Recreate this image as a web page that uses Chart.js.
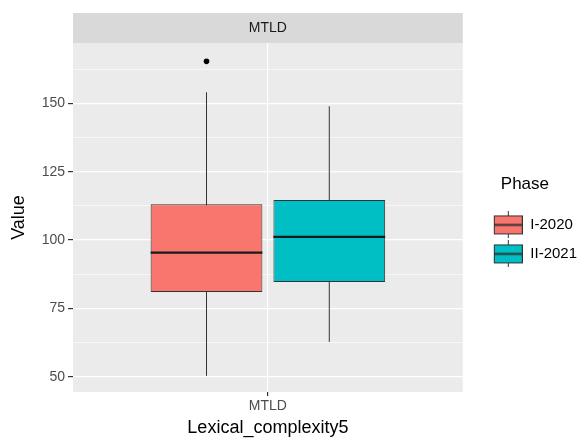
<!DOCTYPE html>
<html>
<head>
<meta charset="utf-8">
<script src="https://cdn.jsdelivr.net/npm/chart.js@4/dist/chart.umd.min.js"></script>
<style>
  body { margin: 0; background: #fff; }
  #wrap { width: 587px; height: 443px; }
</style>
</head>
<body>
<div id="wrap"><canvas id="box-chart"></canvas></div>
<script>
// data
const categories = ['MTLD'];
const phases = ['I-2020', 'II-2021'];
const phaseColors = ['#F8766D', '#00BFC4'];
const whiskerLow = [50.4, 62.8];
const lowerQuartile = [81, 84.7];
const medians = [95.4, 101.2];
const upperQuartile = [113.1, 114.6];
const whiskerHigh = [154, 148.9];
const outliers = [[165.3], []];
const yMajorTicks = [50, 75, 100, 125, 150];
const yMinorTicks = [62.5, 87.5, 112.5, 137.5, 162.5];

const FONT = 'Liberation Sans, Arial, sans-serif';

// little boxplot glyph for the legend keys (left part of the canvas is empty, it is the gap to the panel)
function makeKey(color) {
  const c = document.createElement('canvas');
  c.width = 46; c.height = 27;
  const g = c.getContext('2d');
  const x0 = 17;
  g.strokeStyle = '#333';
  g.lineWidth = 1;
  g.beginPath(); g.moveTo(x0 + 14.5, 0); g.lineTo(x0 + 14.5, 27); g.stroke();
  g.fillStyle = color;
  g.fillRect(x0 + 0.5, 4.5, 28, 18);
  g.strokeRect(x0 + 0.5, 4.5, 28, 18);
  g.lineWidth = 2;
  g.beginPath(); g.moveTo(x0 + 0.5, 13.5); g.lineTo(x0 + 28.5, 13.5); g.stroke();
  return c;
}

const boxExtras = {
  id: 'boxExtras',
  beforeDraw(chart) {
    const { ctx, chartArea: a } = chart;
    ctx.save();
    ctx.fillStyle = '#EBEBEB';
    ctx.fillRect(a.left, a.top, a.right - a.left, a.bottom - a.top);
    // facet strip
    ctx.fillStyle = '#D9D9D9';
    ctx.fillRect(a.left, a.top - 30, a.right - a.left, 30);
    ctx.fillStyle = '#1A1A1A';
    ctx.font = '14px ' + FONT;
    ctx.textAlign = 'center';
    ctx.textBaseline = 'middle';
    ctx.fillText(categories[0], (a.left + a.right) / 2, a.top - 15);
    ctx.restore();
  },
  beforeDatasetsDraw(chart) {
    const { ctx } = chart;
    const y = chart.scales.y;
    ctx.save();
    ctx.strokeStyle = '#333';
    ctx.lineWidth = 1;
    chart.data.datasets.forEach((ds, i) => {
      const el = chart.getDatasetMeta(i).data[0];
      ctx.beginPath();
      ctx.moveTo(el.x, y.getPixelForValue(whiskerLow[i]));
      ctx.lineTo(el.x, y.getPixelForValue(whiskerHigh[i]));
      ctx.stroke();
    });
    ctx.restore();
  },
  afterDatasetsDraw(chart) {
    const { ctx } = chart;
    const y = chart.scales.y;
    ctx.save();
    chart.data.datasets.forEach((ds, i) => {
      const el = chart.getDatasetMeta(i).data[0];
      const py = y.getPixelForValue(medians[i]);
      ctx.strokeStyle = '#1A1A1A';
      ctx.lineWidth = 2.2;
      ctx.beginPath();
      ctx.moveTo(el.x - el.width / 2, py);
      ctx.lineTo(el.x + el.width / 2, py);
      ctx.stroke();
      ctx.fillStyle = '#000';
      outliers[i].forEach(v => {
        ctx.beginPath();
        ctx.arc(el.x, y.getPixelForValue(v), 2.8, 0, Math.PI * 2);
        ctx.fill();
      });
    });
    ctx.restore();
  }
};

new Chart(document.getElementById('box-chart').getContext('2d'), {
  type: 'bar',
  data: {
    labels: categories,
    datasets: phases.map((p, i) => ({
      label: p,
      data: [[lowerQuartile[i], upperQuartile[i]]],
      backgroundColor: phaseColors[i],
      borderColor: '#333',
      borderWidth: 1,
      borderSkipped: false,
      categoryPercentage: 0.63,
      barPercentage: 0.91
    }))
  },
  options: {
    responsive: true,
    maintainAspectRatio: false,
    animation: false,
    layout: { padding: { top: 43, left: 4, right: 0, bottom: 0 } },
    scales: {
      x: {
        border: { display: false },
        grid: { offset: false, color: '#FFFFFF', lineWidth: 1.2, tickColor: '#333', tickLength: 4 },
        ticks: { color: '#4D4D4D', font: { family: FONT, size: 14 }, padding: 2 },
        title: { display: true, text: 'Lexical_complexity5', color: '#000', font: { family: FONT, size: 18 }, padding: { top: 0, bottom: 4 } },
        afterFit(s) { s.height = 51; }
      },
      y: {
        min: 44.5,
        max: 172,
        border: { display: false },
        afterBuildTicks(s) {
          s.ticks = yMajorTicks.concat(yMinorTicks).sort((a, b) => a - b).map(v => ({ value: v }));
        },
        grid: {
          color: '#FFFFFF',
          lineWidth: c => yMajorTicks.includes(c.tick.value) ? 1.2 : 0.6,
          tickColor: c => yMajorTicks.includes(c.tick.value) ? '#333' : 'rgba(0,0,0,0)',
          tickLength: 5
        },
        ticks: {
          color: '#4D4D4D',
          font: { family: FONT, size: 14 },
          padding: 3,
          callback: v => yMajorTicks.includes(v) ? v : ''
        },
        title: { display: true, text: 'Value', color: '#000', font: { family: FONT, size: 18 }, padding: { top: 4, bottom: 4 } },
        afterFit(s) { s.width = 69; }
      }
    },
    plugins: {
      tooltip: { enabled: false },
      legend: {
        position: 'right',
        align: 'start',
        title: { display: true, text: 'Phase', color: '#000', font: { family: FONT, size: 17 }, position: 'center', padding: { top: 133, bottom: 7 } },
        labels: {
          usePointStyle: true,
          pointStyleWidth: 46,
          color: '#1A1A1A',
          font: { family: FONT, size: 15 },
          padding: 14,
          generateLabels: chart => chart.data.datasets.map((ds, i) => ({
            text: ds.label,
            pointStyle: makeKey(phaseColors[i]),
            fillStyle: phaseColors[i],
            strokeStyle: '#333',
            lineWidth: 0,
            datasetIndex: i,
            hidden: false
          }))
        }
      }
    }
  },
  plugins: [boxExtras]
});
</script>
</body>
</html>
